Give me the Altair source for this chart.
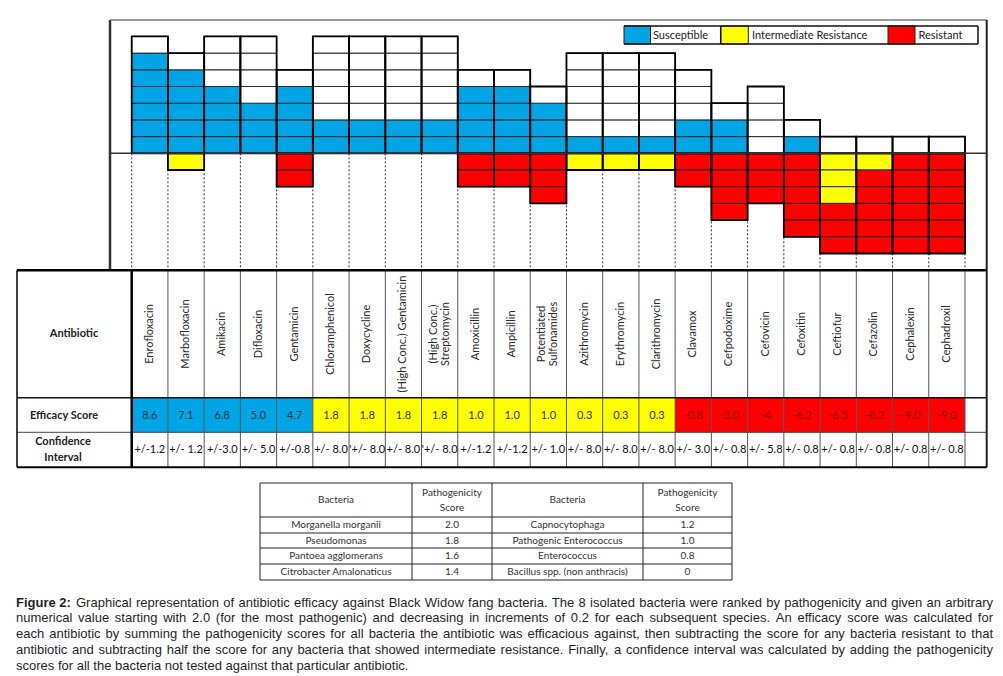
import altair as alt
import pandas as pd

# ---------------- data ----------------
antibiotics = ["Enrofloxacin", "Marbofloxacin", "Amikacin", "Difloxacin", "Gentamicin",
               "Chloramphenicol", "Doxycycline", "(High Conc.) Gentamicin",
               "(High Conc.)\nStreptomycin", "Amoxicillin", "Ampicillin",
               "Potentiated\nSulfonamides", "Azithromycin", "Erythromycin",
               "Clarithromycin", "Clavamox", "Cefpodoxime", "Cefovicin", "Cefoxitin",
               "Ceftiofur", "Cefazolin", "Cephalexin", "Cephadroxil"]
susceptible = [6, 5, 4, 3, 4, 2, 2, 2, 2, 4, 4, 3, 1, 1, 1, 2, 2, 0, 1, 0, 0, 0, 0]
untested = [1, 1, 3, 4, 1, 5, 5, 5, 5, 1, 1, 1, 5, 5, 5, 3, 1, 4, 1, 1, 1, 1, 1]
intermediate = [0, 1, 0, 0, 0, 0, 0, 0, 0, 0, 0, 0, 1, 1, 1, 0, 0, 0, 0, 3, 1, 0, 0]
resistant = [0, 0, 0, 0, 2, 0, 0, 0, 0, 2, 2, 3, 0, 0, 0, 2, 4, 3, 5, 3, 5, 6, 6]
efficacy = [8.6, 7.1, 6.8, 5.0, 4.7, 1.8, 1.8, 1.8, 1.8, 1.0, 1.0, 1.0, 0.3, 0.3, 0.3,
            -0.8, -3.0, -4, -6.2, -6.5, -8.2, -9.0, -9.0]
efficacy_labels = ["8.6", "7.1", "6.8", "5.0", "4.7", "1.8", "1.8", "1.8", "1.8", "1.0",
                   "1.0", "1.0", "0.3", "0.3", "0.3", "-0.8", "-3.0", "-4", "-6.2", "-6.5",
                   "-8.2", "-9.0", "-9.0"]
confidence = ["+/-1.2", "+/- 1.2", "+/-3.0", "+/- 5.0", "+/-0.8", "+/- 8.0", "'+/- 8.0",
              "+/- 8.0", "'+/- 8.0", "+/-1.2", "+/-1.2", "+/- 1.0", "+/- 8.0", "+/- 8.0",
              "+/- 8.0", "+/- 3.0", "+/- 0.8", "+/- 5.8", "+/- 0.8", "+/- 0.8", "+/- 0.8",
              "+/- 0.8", "+/- 0.8"]
legend_labels = ["Susceptible", "Intermediate Resistance", "Resistant"]

bacteria_left = ["Morganella morganii", "Pseudomonas", "Pantoea agglomerans",
                 "Citrobacter Amalonaticus"]
score_left = ["2.0", "1.8", "1.6", "1.4"]
bacteria_right = ["Capnocytophaga", "Pathogenic Enterococcus", "Enterococcus",
                  "Bacillus spp. (non anthracis)"]
score_right = ["1.2", "1.0", "0.8", "0"]

caption_lines = [
    "Graphical representation of antibiotic efficacy against Black Widow fang bacteria. The 8 isolated bacteria were ranked by pathogenicity and given an arbitrary",
    "numerical value starting with 2.0 (for the most pathogenic) and decreasing in increments of 0.2 for each subsequent species. An efficacy score was calculated for",
    "each antibiotic by summing the pathogenicity scores for all bacteria the antibiotic was efficacious against, then subtracting the score for any bacteria resistant to that",
    "antibiotic and subtracting half the score for any bacteria that showed intermediate resistance. Finally, a confidence interval was calculated by adding the pathogenicity",
    "scores for all the bacteria not tested against that particular antibiotic.",
]

BLUE, YELLOW, RED = "#00A5E6", "#FFFF00", "#FF0000"

# ---------------- layout helpers (page px -> data units) ----------------
CW, RH = 36.23, 16.7
X0, Y0 = 131.7, 153.3


def ux(p):
    return (p - X0) / CW


def vy(p):
    return (Y0 - p) / RH


XS = alt.Scale(domain=[ux(8), ux(995)], nice=False, zero=False)
YS = alt.Scale(domain=[vy(676), vy(8)], nice=False, zero=False)
N = len(antibiotics)
STATUS_SCALE = alt.Scale(domain=["Susceptible", "Untested", "Intermediate", "Resistant"],
                         range=[BLUE, "#FFFFFF", YELLOW, RED])


def rules(rows, color, width, dash=None):
    df = pd.DataFrame(rows, columns=["x", "x2", "y", "y2"])
    kw = dict(color=color, strokeWidth=width)
    if dash:
        kw["strokeDash"] = dash
    return alt.Chart(df).mark_rule(**kw).encode(
        x=alt.X("x:Q", scale=XS, axis=None), x2="x2:Q",
        y=alt.Y("y:Q", scale=YS, axis=None), y2="y2:Q")


def texts(rows, color="#333", **kw):
    df = pd.DataFrame(rows, columns=["x", "y", "t"])
    return alt.Chart(df).mark_text(color=color, **kw).encode(
        x=alt.X("x:Q", scale=XS, axis=None),
        y=alt.Y("y:Q", scale=YS, axis=None),
        text="t:N")


def rects(df, stroke="#222", sw=1.0, fill_field=True):
    kw = dict(stroke=stroke, strokeWidth=sw)
    if not fill_field:
        kw["fillOpacity"] = 0
        kw["fill"] = "white"
    enc = dict(x=alt.X("x:Q", scale=XS, axis=None), x2="x2:Q",
               y=alt.Y("y:Q", scale=YS, axis=None), y2="y2:Q")
    if fill_field:
        enc["color"] = alt.Color("status:N", legend=None, scale=STATUS_SCALE)
    return alt.Chart(df).mark_rect(**kw).encode(**enc)


def first_line_shift(t, lh):
    """pixel shift of the first line so a multi-line block is centred"""
    return (t.count("\n")) * lh / 2.0


# ---------------- grid cells ----------------
cells = []
for i in range(N):
    for k in range(susceptible[i] + untested[i]):
        st = "Susceptible" if k < susceptible[i] else "Untested"
        cells.append(dict(x=i, x2=i + 1, y=k, y2=k + 1, status=st))
    for k in range(intermediate[i] + resistant[i]):
        st = "Intermediate" if k < intermediate[i] else "Resistant"
        cells.append(dict(x=i, x2=i + 1, y=-k - 1, y2=-k, status=st))
cells_df = pd.DataFrame(cells)

outl = []
for i in range(N):
    top = susceptible[i] + untested[i]
    bot = intermediate[i] + resistant[i]
    outl.append(dict(x=i, x2=i + 1, y=0, y2=top))
    if bot:
        outl.append(dict(x=i, x2=i + 1, y=-bot, y2=0))
outl_df = pd.DataFrame(outl)

T_TOP, T_EFF, T_CI, T_BOT = -7.0, vy(397.7), vy(432.3), vy(467.3)
L_FR, R_FR, TOP_FR, T_LEFT = ux(110), ux(986.7), vy(20), ux(17)

layers = []
layers.append(rules([(i, i, 0, T_TOP) for i in range(N + 1)], "#333", 1, [2, 2]))
layers.append(rects(cells_df, stroke="#2a2a2a", sw=1))
layers.append(rects(outl_df, stroke="#000", sw=1.8, fill_field=False))
layers.append(rules([(L_FR, L_FR, TOP_FR, T_TOP)], "#333", 2.5))
layers.append(rules([(L_FR, R_FR, TOP_FR, TOP_FR)], "#777", 1.5))
layers.append(rules([(R_FR, R_FR, TOP_FR, T_BOT)], "#222", 2))
layers.append(rules([(L_FR, R_FR, 0, 0)], "#333", 1.5))

# ---------------- table ----------------
eff_rows = []
for i in range(N):
    st = "Susceptible" if efficacy[i] > 3 else ("Intermediate" if efficacy[i] >= 0 else "Resistant")
    eff_rows.append(dict(x=i, x2=i + 1, y=T_CI, y2=T_EFF, status=st))
layers.append(rects(pd.DataFrame(eff_rows), stroke=None, sw=0))
layers.append(rules([(i, i, T_TOP, T_BOT) for i in range(1, N + 1)], "#555", 1))
layers.append(rules([(T_LEFT, R_FR, T_CI, T_CI)], "#444", 1))
layers.append(rules([(T_LEFT, R_FR, T_EFF, T_EFF)], "#111", 1.5))
layers.append(rules([(T_LEFT, R_FR, T_TOP, T_TOP)], "#000", 2.5))
layers.append(rules([(T_LEFT, R_FR, T_BOT, T_BOT)], "#000", 2))
layers.append(rules([(T_LEFT, T_LEFT, T_TOP, T_BOT)], "#000", 1.5))
layers.append(rules([(0, 0, T_TOP, T_BOT)], "#000", 2.5))

FONT = "Lato"
LBL_LH = 12
layers.append(texts([(i + 0.5 - first_line_shift(antibiotics[i], LBL_LH) / CW, vy(334),
                      antibiotics[i]) for i in range(N)],
                    angle=270, align="center", baseline="middle", font=FONT,
                    fontSize=11, lineBreak="\n", lineHeight=LBL_LH, color="#2a2a2a"))
layers.append(texts([(i + 0.5, vy(415.5), efficacy_labels[i]) for i in range(N) if efficacy[i] >= 0],
                    font=FONT, fontSize=11, align="center", baseline="middle", color="#333"))
layers.append(texts([(i + 0.5, vy(415.5), efficacy_labels[i]) for i in range(N) if efficacy[i] < 0],
                    font=FONT, fontSize=11, align="center", baseline="middle", color="#8a1010"))
layers.append(texts([(i + 0.5, vy(450), confidence[i]) for i in range(N)],
                    font=FONT, fontSize=11, align="center", baseline="middle", color="#111"))
row_lbls = [(74, 334, "Antibiotic"), (64, 415.5, "Efficacy Score"), (63, 450, "Confidence\nInterval")]
layers.append(texts([(ux(x), vy(y - first_line_shift(t, 16)), t) for x, y, t in row_lbls],
                    font=FONT, fontSize=11, fontWeight="bold", align="center",
                    baseline="middle", lineBreak="\n", lineHeight=16, color="#222"))

# ---------------- legend ----------------
LG_T, LG_B = vy(26), vy(44)
sw_x = [(624, 650.5), (720.7, 748.3), (888, 915)]
leg_df = pd.DataFrame([dict(x=ux(a), x2=ux(b), y=LG_B, y2=LG_T, status=s)
                       for (a, b), s in zip(sw_x, ["Susceptible", "Intermediate", "Resistant"])])
layers.append(rects(leg_df, stroke="#222", sw=1))
layers.append(rules([(ux(624), ux(978), LG_T, LG_T), (ux(624), ux(978), LG_B, LG_B),
                     (ux(978), ux(978), LG_T, LG_B), (ux(720.7), ux(720.7), LG_T, LG_B)],
                    "#111", 1.5))
layers.append(texts([(ux(653), vy(35.5), legend_labels[0]),
                     (ux(752), vy(35.5), legend_labels[1]),
                     (ux(918.5), vy(35.5), legend_labels[2])],
                    font=FONT, fontSize=11, align="left", baseline="middle", color="#222"))

# ---------------- bacteria table ----------------
BX = [260, 412, 492, 643, 732]
BY = [483, 517, 533, 548, 564, 580]
layers.append(rules([(ux(BX[0]), ux(BX[-1]), vy(y), vy(y)) for y in BY], "#222", 1))
layers.append(rules([(ux(x), ux(x), vy(BY[0]), vy(BY[-1])) for x in BX], "#222", 1))
cx = [(BX[j] + BX[j + 1]) / 2 for j in range(4)]
cy = [(BY[j] + BY[j + 1]) / 2 for j in range(5)]
hdr = ["Bacteria", "Pathogenicity\nScore", "Bacteria", "Pathogenicity\nScore"]
brows = [(ux(cx[j]), vy(cy[0] - first_line_shift(hdr[j], 15)), hdr[j]) for j in range(4)]
for r in range(4):
    brows += [(ux(cx[0]), vy(cy[r + 1]), bacteria_left[r]),
              (ux(cx[1]), vy(cy[r + 1]), score_left[r]),
              (ux(cx[2]), vy(cy[r + 1]), bacteria_right[r]),
              (ux(cx[3]), vy(cy[r + 1]), score_right[r])]
layers.append(texts(brows, font=FONT, fontSize=10, align="center", baseline="middle",
                    lineBreak="\n", lineHeight=15, color="#333"))

# ---------------- caption (justified like the original) ----------------
ARIAL = {" ": 278, "!": 278, "'": 191, "(": 333, ")": 333, ",": 278, "-": 333, ".": 278,
         "/": 278, ":": 278, ";": 278}
for ch in "0123456789":
    ARIAL[ch] = 556
ARIAL.update(dict(zip("ABCDEFGHIJKLMNOPQRSTUVWXYZ",
                      [667, 667, 722, 722, 667, 611, 778, 722, 278, 500, 667, 556, 833,
                       722, 778, 667, 778, 722, 667, 611, 722, 667, 944, 667, 667, 611])))
ARIAL.update(dict(zip("abcdefghijklmnopqrstuvwxyz",
                      [556, 556, 500, 556, 556, 278, 556, 556, 222, 222, 500, 222, 833,
                       556, 556, 556, 556, 333, 500, 278, 556, 500, 722, 500, 500, 500])))
CAP_FS = 13


def tw(s):
    return sum(ARIAL.get(ch, 556) for ch in s) * CAP_FS / 1000.0


CAP_Y = [606.5, 622.3, 638.2, 654.0, 669.8]
CAP_L, CAP_R = 16, 993
left_words, right_words = [], []
for k, line in enumerate(caption_lines):
    start = 76 if k == 0 else CAP_L
    if k == len(caption_lines) - 1:
        left_words.append((ux(start), vy(CAP_Y[k]), line))
        continue
    words = line.split(" ")
    total = sum(tw(w) for w in words)
    gap = (CAP_R - start - total) / (len(words) - 1)
    x = start
    for j, w in enumerate(words):
        if j == len(words) - 1:
            right_words.append((ux(CAP_R), vy(CAP_Y[k]), w))
        else:
            left_words.append((ux(x), vy(CAP_Y[k]), w))
        x += tw(w) + gap

CAP_COLOR = "#1f1f2a"
layers.append(texts([(ux(16), vy(CAP_Y[0]), "Figure 2:")], font="Liberation Sans",
                    fontSize=CAP_FS, fontWeight="bold", align="left", baseline="alphabetic",
                    color=CAP_COLOR))
layers.append(texts(left_words, font="Liberation Sans", fontSize=CAP_FS, align="left",
                    baseline="alphabetic", color=CAP_COLOR))
layers.append(texts(right_words, font="Liberation Sans", fontSize=CAP_FS, align="right",
                    baseline="alphabetic", color=CAP_COLOR))

chart = alt.layer(*layers).properties(
    width=987, height=668, padding=0,
    autosize=alt.AutoSizeParams(type="none"),
    background="white",
).configure_view(stroke=None)

chart.save("out.html", embed_options={"renderer": "svg", "actions": False})
